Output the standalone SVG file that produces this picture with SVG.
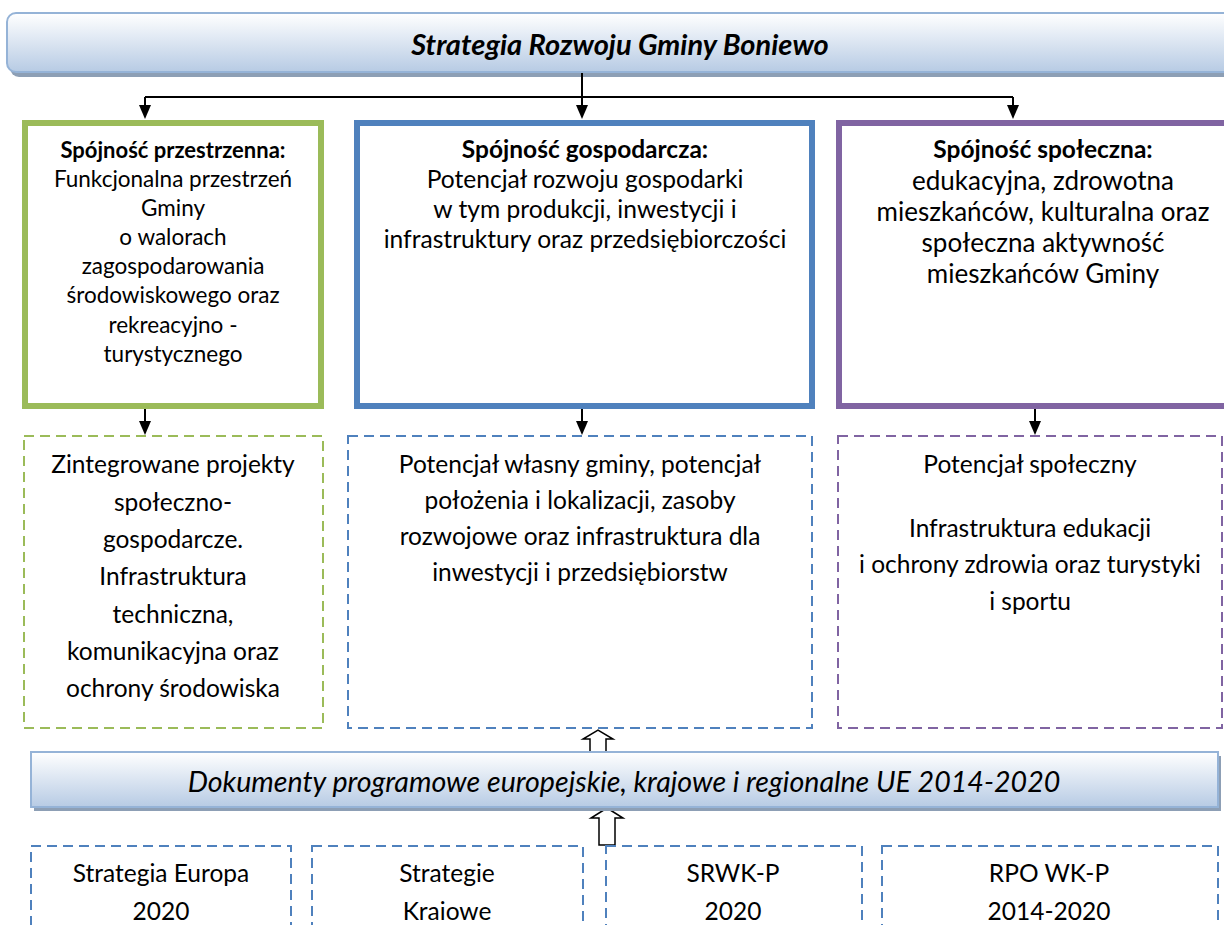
<svg xmlns="http://www.w3.org/2000/svg" width="1224" height="925" viewBox="0 0 1224 925">
<style>
text{font-family:Lato,"Open Sans","Liberation Sans",sans-serif;fill:#000;text-anchor:middle}
.hg{font-size:22px;font-weight:bold}
.bg{font-size:22.5px}
.h{font-size:24.5px;font-weight:bold}
.b{font-size:24.6px}
.bp{font-size:26px}
.d{font-size:24.5px}
.title{font-size:29px;font-weight:bold;font-style:italic}
.sub{font-size:28.6px;font-style:italic}
.solid{fill:#fff;stroke-width:6}
.dash{fill:#fff;stroke-width:2;stroke-dasharray:10 6}
.ln{stroke:#000;stroke-width:2;fill:none}
.head{fill:#000}
.hollow{fill:#fff;stroke:#000;stroke-width:1.5}
</style>
<defs>
<linearGradient id="bn" x1="0" y1="0" x2="0" y2="1">
<stop offset="0" stop-color="#ffffff"/>
<stop offset="1" stop-color="#b7cbe4"/>
</linearGradient>
</defs>
<rect width="1224" height="925" fill="#fff"/>

<g id="title">
<rect x="10" y="17" width="1240" height="60" rx="9" fill="#8d9fb5"/>
<rect x="7" y="13" width="1240" height="59" rx="9" fill="url(#bn)" stroke="#95b3d7" stroke-width="2"/>
<text class="title" x="620" y="55">Strategia Rozwoju Gminy Boniewo</text>
</g>

<g id="connectors">
<path class="ln" d="M582,73 V108"/>
<path class="ln" d="M145,97 H1013"/>
<path class="ln" d="M145,97 V108"/>
<path class="ln" d="M1013,97 V108"/>
<path class="head" d="M139,105 H151 L145,119 Z"/>
<path class="head" d="M576,105 H588 L582,119 Z"/>
<path class="head" d="M1007,105 H1019 L1013,119 Z"/>
<path class="ln" d="M145,409 V424"/>
<path class="ln" d="M582,409 V424"/>
<path class="ln" d="M1035,409 V424"/>
<path class="head" d="M139,421 H151 L145,435 Z"/>
<path class="head" d="M576,421 H588 L582,435 Z"/>
<path class="head" d="M1029,421 H1041 L1035,435 Z"/>
<path class="hollow" d="M590,752 V739 H583 L598,730 L613,739 H606 V752 Z"/>
<path class="hollow" d="M599,845 V818 H591 L607,808 L623,818 H615 V845 Z"/>
</g>

<g id="box-przestrzenna">
<rect class="solid" x="25" y="123" width="296" height="283" stroke="#9bbb59"/>
<text class="hg" x="173" y="158">Spójność przestrzenna:</text>
<text class="bg" x="173" y="187">Funkcjonalna przestrzeń</text>
<text class="bg" x="173" y="216">Gminy</text>
<text class="bg" x="173" y="245">o walorach</text>
<text class="bg" x="173" y="274">zagospodarowania</text>
<text class="bg" x="173" y="303">środowiskowego oraz</text>
<text class="bg" x="173" y="333">rekreacyjno -</text>
<text class="bg" x="173" y="362">turystycznego</text>
</g>

<g id="box-gospodarcza">
<rect class="solid" x="357" y="123" width="455" height="283" stroke="#4f81bd"/>
<text class="h" x="585" y="158">Spójność gospodarcza:</text>
<text class="b" x="585" y="188">Potencjał rozwoju gospodarki</text>
<text class="b" x="585" y="218">w tym produkcji, inwestycji i</text>
<text class="b" x="585" y="248">infrastruktury oraz przedsiębiorczości</text>
</g>

<g id="box-spoleczna">
<rect class="solid" x="839" y="123" width="420" height="283" stroke="#8064a2"/>
<text class="h" x="1043" y="158">Spójność społeczna:</text>
<text class="bp" x="1043" y="190">edukacyjna,  zdrowotna</text>
<text class="bp" x="1043" y="221">mieszkańców, kulturalna oraz</text>
<text class="bp" x="1043" y="252">społeczna aktywność</text>
<text class="bp" x="1043" y="283">mieszkańców Gminy</text>
</g>

<g id="dash-zintegrowane">
<rect class="dash" x="24" y="436" width="299" height="292" stroke="#9bbb59"/>
<text class="d" x="173" y="473">Zintegrowane projekty</text>
<text class="d" x="173" y="511">społeczno-</text>
<text class="d" x="173" y="548">gospodarcze.</text>
<text class="d" x="173" y="585">Infrastruktura</text>
<text class="d" x="173" y="623">techniczna,</text>
<text class="d" x="173" y="660">komunikacyjna oraz</text>
<text class="d" x="173" y="697">ochrony środowiska</text>
</g>

<g id="dash-potencjal-wlasny">
<rect class="dash" x="348" y="436" width="464" height="292" stroke="#4f81bd"/>
<text class="d" x="580" y="473">Potencjał własny gminy, potencjał</text>
<text class="d" x="580" y="509">położenia i lokalizacji, zasoby</text>
<text class="d" x="580" y="545">rozwojowe oraz infrastruktura dla</text>
<text class="d" x="580" y="581">inwestycji i przedsiębiorstw</text>
</g>

<g id="dash-potencjal-spoleczny">
<rect class="dash" x="838" y="436" width="384" height="292" stroke="#8064a2"/>
<text class="d" x="1030" y="473">Potencjał społeczny</text>
<text class="d" x="1030" y="537">Infrastruktura edukacji</text>
<text class="d" x="1030" y="573">i ochrony zdrowia oraz turystyki</text>
<text class="d" x="1030" y="610">i sportu</text>
</g>

<g id="dokumenty">
<rect x="34" y="756" width="1187" height="55" fill="#8d9fb5"/>
<rect x="31" y="752" width="1187" height="55" fill="url(#bn)" stroke="#95b3d7" stroke-width="2"/>
<text class="sub" x="624" y="792">Dokumenty programowe europejskie, krajowe i regionalne UE 2014-2020</text>
</g>

<g id="doc-europa">
<rect class="dash" x="31" y="846" width="260" height="100" stroke="#4f81bd"/>
<text class="d" x="161" y="882">Strategia Europa</text>
<text class="d" x="161" y="920">2020</text>
</g>
<g id="doc-krajowe">
<rect class="dash" x="312" y="846" width="271" height="100" stroke="#4f81bd"/>
<text class="d" x="447" y="882">Strategie</text>
<text class="d" x="447" y="920">Kraiowe</text>
</g>
<g id="doc-srwkp">
<rect class="dash" x="606" y="846" width="256" height="100" stroke="#4f81bd"/>
<text class="d" x="733" y="882">SRWK-P</text>
<text class="d" x="733" y="920">2020</text>
</g>
<g id="doc-rpo">
<rect class="dash" x="882" y="846" width="336" height="100" stroke="#4f81bd"/>
<text class="d" x="1049" y="882">RPO WK-P</text>
<text class="d" x="1049" y="920">2014-2020</text>
</g>
</svg>
